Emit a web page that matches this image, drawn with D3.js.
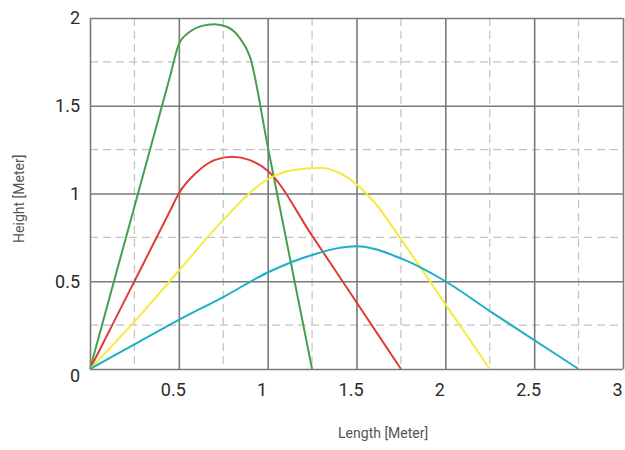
<!DOCTYPE html>
<html>
<head>
<meta charset="utf-8">
<script src="https://cdn.jsdelivr.net/npm/d3@7"></script>
<style>
  body { margin: 0; background: #fff; }
  svg { display: block; }
</style>
</head>
<body>
<div id="chart"></div>
<script>
// trajectories, [length, height] in meter
var greenData = [[0, 0], [0.15, 0.555], [0.3, 1.11], [0.45, 1.665], [0.5, 1.85], [0.56, 1.92], [0.63, 1.955], [0.7, 1.965], [0.77, 1.95], [0.84, 1.89], [0.9, 1.78], [1.0, 1.27], [1.1, 0.76], [1.25, 0]];
var redData = [[0, 0], [0.15, 0.3], [0.3, 0.6], [0.45, 0.9], [0.5, 1.0], [0.6, 1.12], [0.7, 1.19], [0.8, 1.21], [0.9, 1.19], [1.0, 1.13], [1.25, 0.76], [1.5, 0.38], [1.75, 0]];
var yellowData = [[0, 0], [0.25, 0.27], [0.5, 0.56], [0.75, 0.85], [1.0, 1.08], [1.15, 1.135], [1.3, 1.145], [1.45, 1.09], [1.6, 0.95], [1.75, 0.74], [2.0, 0.37], [2.25, 0]];
var cyanData = [[0, 0], [0.25, 0.14], [0.5, 0.28], [0.75, 0.41], [1.0, 0.55], [1.25, 0.65], [1.5, 0.7], [1.75, 0.63], [2.0, 0.5], [2.25, 0.33], [2.5, 0.165], [2.75, 0]];

var xTicks = [0.5, 1, 1.5, 2, 2.5, 3];
var yTicks = [0, 0.5, 1, 1.5, 2];
var minorTicks = [0.25, 0.75, 1.25, 1.75, 2.25, 2.75];

var series = [
  { data: greenData, color: '#44a04c' },
  { data: redData, color: '#df3b3b' },
  { data: yellowData, color: '#f6ea3a' },
  { data: cyanData, color: '#1bb0c6' }
];

var width = 625, height = 450;
var margin = { top: 18, right: 2, bottom: 81, left: 90 };
var chartWidth = width - margin.left - margin.right;
var chartHeight = height - margin.top - margin.bottom;

var x = d3.scaleLinear().domain([0, 3]).range([0, chartWidth]);
var y = d3.scaleLinear().domain([0, 2]).range([chartHeight, 0]);

var svg = d3.select('#chart').append('svg')
  .attr('width', width)
  .attr('height', height);

var chart = svg.append('g')
  .attr('transform', `translate(${margin.left}, ${margin.top})`);

// minor dashed grid
chart.selectAll('.minor-x').data(minorTicks).enter().append('line')
  .attr('x1', d => x(d)).attr('x2', d => x(d))
  .attr('y1', 0).attr('y2', chartHeight)
  .attr('stroke', '#c2c2c2').attr('stroke-width', 1.2)
  .attr('stroke-dasharray', '8,5');

chart.selectAll('.minor-y').data(minorTicks.filter(d => d < 2)).enter().append('line')
  .attr('y1', d => y(d)).attr('y2', d => y(d))
  .attr('x1', 0).attr('x2', chartWidth)
  .attr('stroke', '#c2c2c2').attr('stroke-width', 1.2)
  .attr('stroke-dasharray', '8,5');

// major grid
chart.append('g')
  .attr('transform', `translate(0, ${chartHeight})`)
  .call(d3.axisBottom(x).tickValues([0].concat(xTicks)).tickSize(-chartHeight).tickFormat(''))
  .call(g => g.select('.domain').remove())
  .selectAll('line').attr('stroke', '#7a7a7a').attr('stroke-width', 1.6);

chart.append('g')
  .call(d3.axisLeft(y).tickValues(yTicks).tickSize(-chartWidth).tickFormat(''))
  .call(g => g.select('.domain').remove())
  .selectAll('line').attr('stroke', '#7a7a7a').attr('stroke-width', 1.6);

// curves
var line = d3.line()
  .x(d => x(d[0]))
  .y(d => y(d[1]))
  .curve(d3.curveMonotoneX);

chart.selectAll('.curve').data(series).enter().append('path')
  .attr('d', d => line(d.data))
  .attr('fill', 'none')
  .attr('stroke', d => d.color)
  .attr('stroke-width', 2);

// tick labels
chart.append('g')
  .attr('transform', `translate(0, ${chartHeight})`)
  .call(d3.axisBottom(x).tickValues(xTicks).tickSize(0).tickPadding(14).tickFormat(d3.format('')))
  .call(g => g.select('.domain').remove())
  .selectAll('text')
  .attr('dx', -6)
  .attr('font-family', 'Roboto, sans-serif')
  .attr('font-size', 18)
  .attr('fill', '#2a2a2a');

chart.append('g')
  .call(d3.axisLeft(y).tickValues(yTicks).tickSize(0).tickPadding(10).tickFormat(d3.format('')))
  .call(g => g.select('.domain').remove())
  .selectAll('text')
  .attr('dy', d => d === 0 ? '0.7em' : '0.32em')
  .attr('font-family', 'Roboto, sans-serif')
  .attr('font-size', 18)
  .attr('fill', '#2a2a2a');

// axis titles
svg.append('text')
  .attr('x', margin.left + x(1.65))
  .attr('y', 438)
  .attr('text-anchor', 'middle')
  .attr('font-family', 'Roboto, sans-serif')
  .attr('font-size', 14)
  .attr('fill', '#555')
  .text('Length [Meter]');

svg.append('text')
  .attr('transform', `translate(24, ${margin.top + y(0.97)}) rotate(-90)`)
  .attr('text-anchor', 'middle')
  .attr('font-family', 'Roboto, sans-serif')
  .attr('font-size', 14)
  .attr('fill', '#555')
  .text('Height [Meter]');
</script>
</body>
</html>
